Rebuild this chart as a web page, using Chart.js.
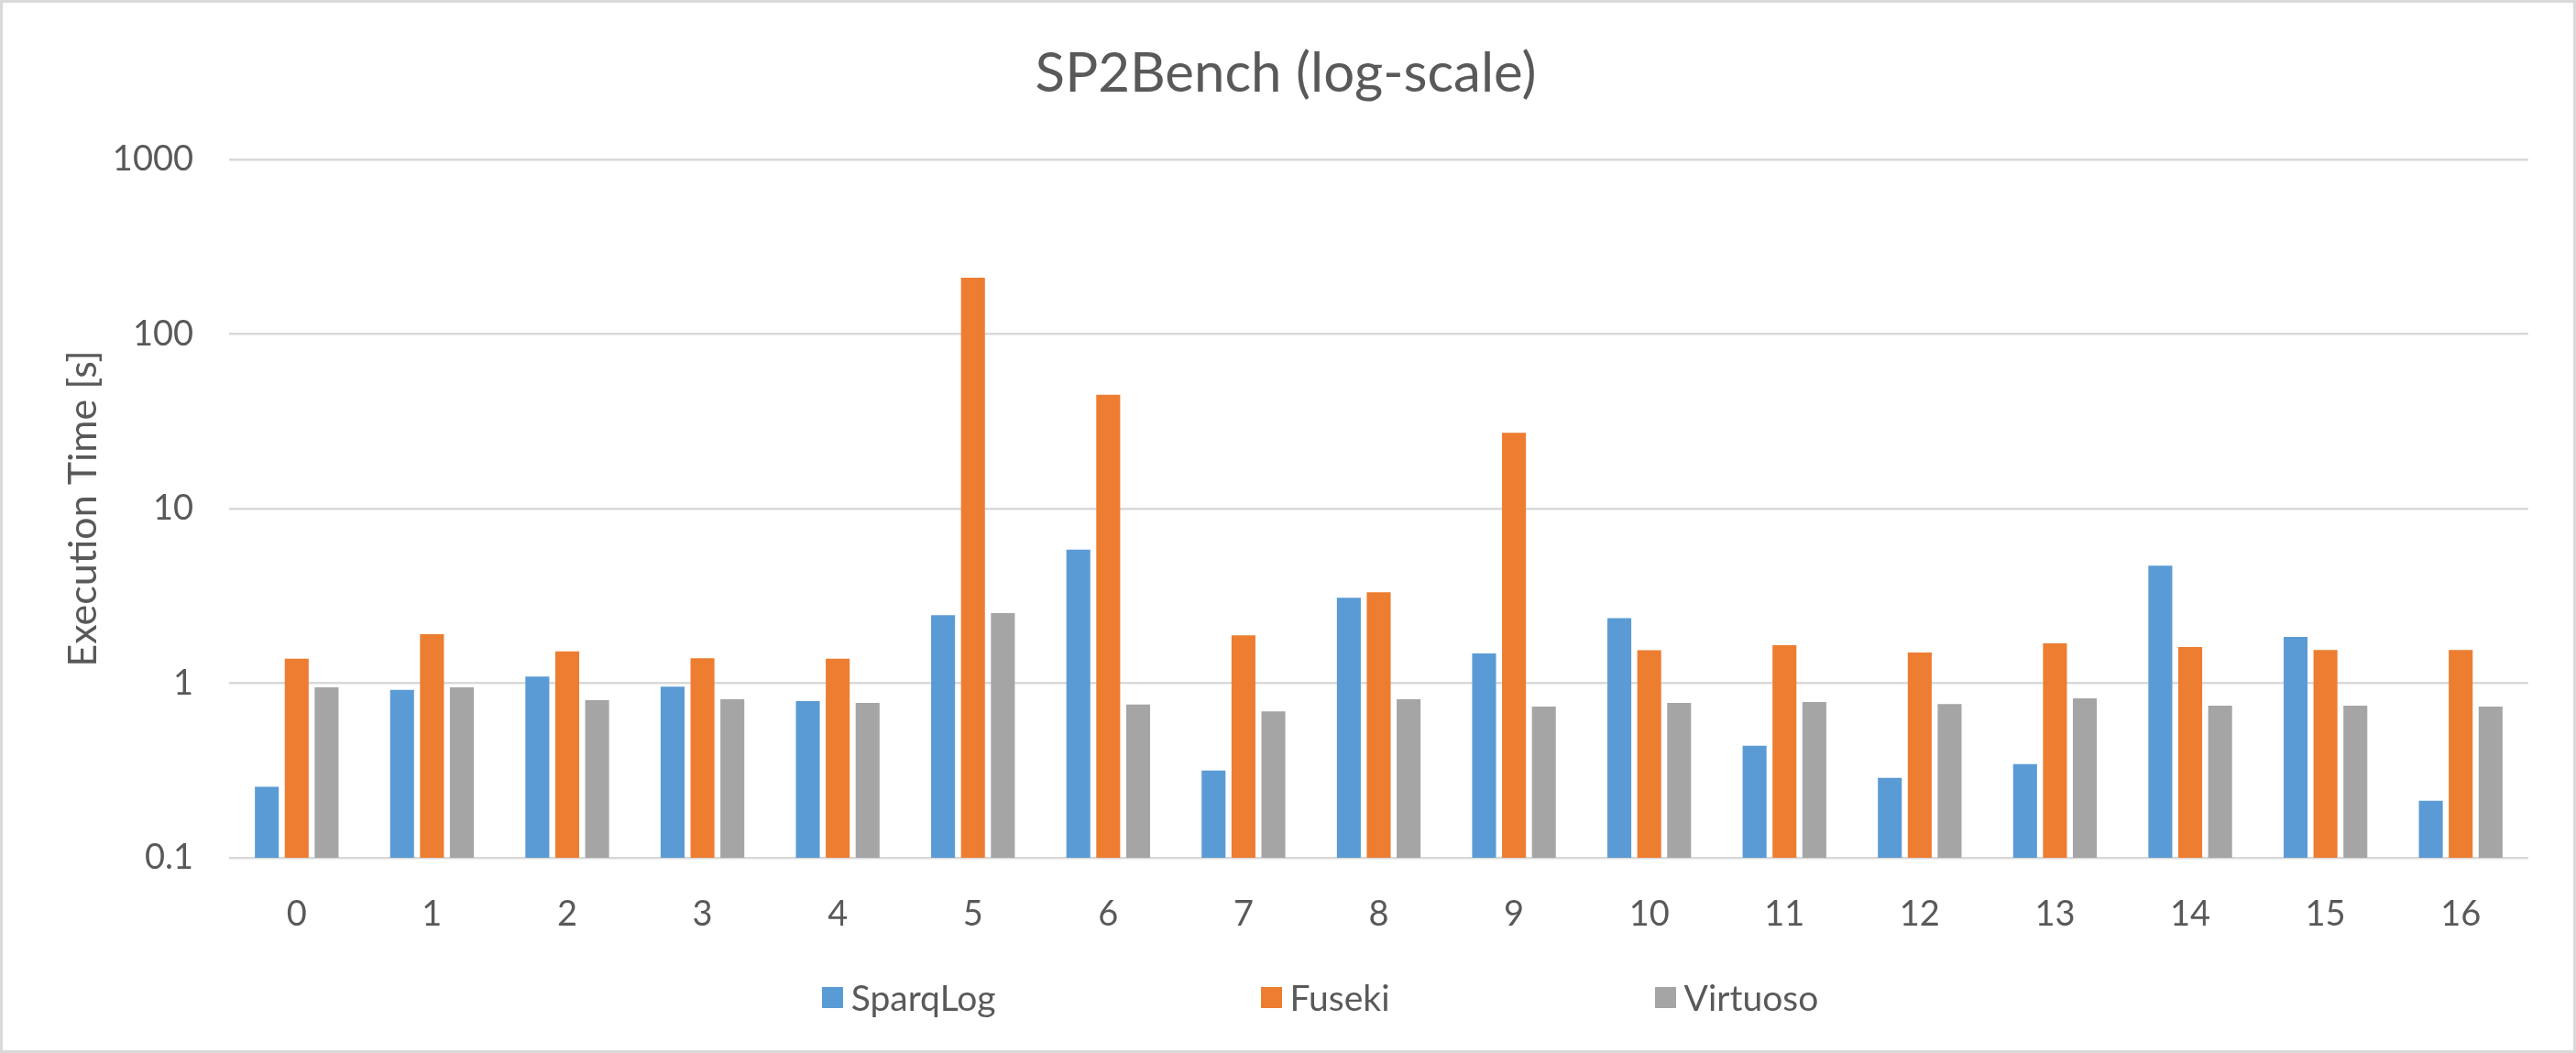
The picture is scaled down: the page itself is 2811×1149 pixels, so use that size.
<!DOCTYPE html>
<html>
<head>
<meta charset="utf-8">
<script src="https://cdn.jsdelivr.net/npm/chart.js@4.4.0/dist/chart.umd.min.js"></script>
<style>
  html, body { margin: 0; padding: 0; background: #fff; }
  #wrap {
    position: relative;
    width: 2811px; height: 1149px;
    box-sizing: border-box;
    border: 3px solid #d9d9d9;
    background: #fff;
  }
  #plot { position: absolute; left: 0; top: 0; right: 0; bottom: 0; }
  #legend {
    position: absolute; left: 0; right: 0; top: 1062px;
    display: flex; justify-content: center; align-items: center;
    gap: 289px; padding-left: 70px;
    font-family: Lato, sans-serif; font-size: 39px; color: #595959;
  }
  #legend .item { display: flex; align-items: center; }
  #legend .box { width: 23px; height: 23px; margin-right: 9px; }
</style>
</head>
<body>
<div id="wrap">
  <div id="plot"><canvas id="myChart"></canvas></div>
  <div id="legend"></div>
</div>
<script>
const categories = ['0', '1', '2', '3', '4', '5', '6', '7', '8', '9', '10', '11', '12', '13', '14', '15', '16'];

const sparqlog = [0.255, 0.917, 1.09, 0.957, 0.79, 2.45, 5.83, 0.316, 3.09, 1.48, 2.36, 0.438, 0.287, 0.344, 4.71, 1.84, 0.212];
const fuseki   = [1.38, 1.91, 1.52, 1.39, 1.38, 210, 44.9, 1.88, 3.32, 27.2, 1.545, 1.65, 1.50, 1.69, 1.61, 1.55, 1.55];
const virtuoso = [0.946, 0.946, 0.80, 0.81, 0.77, 2.52, 0.755, 0.69, 0.81, 0.735, 0.77, 0.78, 0.76, 0.82, 0.743, 0.743, 0.735];

const yTicks = [0.1, 1, 10, 100, 1000];

const textColor = '#595959';
const fontFamily = 'Lato, sans-serif';

const ctx = document.getElementById('myChart');
const chart = new Chart(ctx, {
    type: 'bar',
    data: {
        labels: categories,
        datasets: [
            { label: 'SparqLog', data: sparqlog, backgroundColor: '#5b9bd5' },
            { label: 'Fuseki', data: fuseki, backgroundColor: '#ed7d31' },
            { label: 'Virtuoso', data: virtuoso, backgroundColor: '#a5a5a5' }
        ]
    },
    options: {
        responsive: true,
        maintainAspectRatio: false,
        animation: false,
        categoryPercentage: 0.663,
        barPercentage: 0.80,
        layout: { padding: { left: 44, right: 49, top: 0, bottom: 120 } },
        plugins: {
            legend: { display: false },
            tooltip: { enabled: false },
            title: {
                display: true,
                text: 'SP2Bench (log-scale)',
                color: textColor,
                font: { family: fontFamily, size: 60, weight: 'normal' },
                padding: { top: 42, bottom: 57 }
            }
        },
        scales: {
            x: {
                grid: { display: false },
                border: { display: false },
                ticks: {
                    color: textColor,
                    font: { family: fontFamily, size: 38 },
                    padding: 31,
                    maxRotation: 0
                },
                afterFit: function (scale) { scale.height = 90; }
            },
            y: {
                type: 'logarithmic',
                min: 0.1,
                max: 1000,
                border: { display: false },
                grid: { color: '#d9d9d9', lineWidth: 2.5, drawTicks: false },
                ticks: {
                    color: textColor,
                    font: { family: fontFamily, size: 38 },
                    padding: 39,
                    callback: function (value) { return String(value); }
                },
                afterBuildTicks: function (scale) {
                    scale.ticks = yTicks.map(v => ({ value: v }));
                },
                afterFit: function (scale) { scale.width = 203; },
                title: {
                    display: true,
                    text: 'Execution Time [s]',
                    color: textColor,
                    font: { family: fontFamily, size: 43 },
                    padding: { top: 18, bottom: 0 }
                }
            }
        }
    }
});

// legend drawn as html so the wide spacing between items does not grow the chart
const legendEl = document.getElementById('legend');
chart.data.datasets.forEach(ds => {
    const item = document.createElement('div');
    item.className = 'item';
    const box = document.createElement('span');
    box.className = 'box';
    box.style.background = ds.backgroundColor;
    const txt = document.createElement('span');
    txt.textContent = ds.label;
    item.appendChild(box);
    item.appendChild(txt);
    legendEl.appendChild(item);
});
</script>
</body>
</html>
